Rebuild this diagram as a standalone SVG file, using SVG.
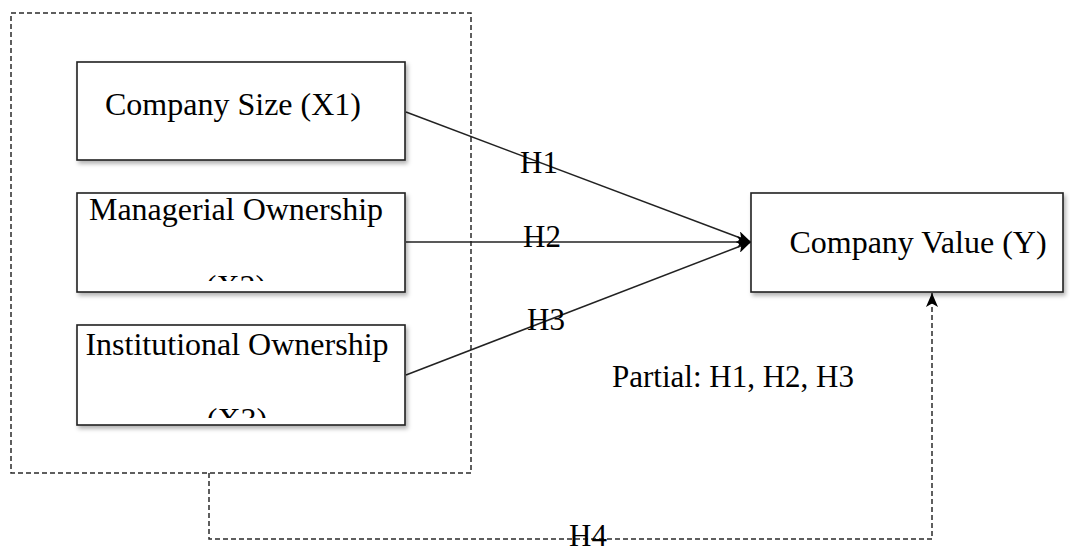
<svg xmlns="http://www.w3.org/2000/svg" width="1070" height="547" viewBox="0 0 1070 547">
  <style>
    .box { fill: #ffffff; stroke: #222222; stroke-width: 1.6; }
    .lbl { font-family: "Liberation Serif", "Times New Roman", serif; font-size: 32px; fill: #000000; }
    .hl { font-family: "Liberation Serif", "Times New Roman", serif; font-size: 31px; fill: #000000; }
    .conn { fill: none; stroke: #222222; stroke-width: 1.5; }
    .dash { fill: none; stroke: #2a2a2a; stroke-width: 1.5; stroke-dasharray: 5 3; }
  </style>
  <defs>
    <filter id="shadow" x="-10%" y="-10%" width="125%" height="130%">
      <feDropShadow dx="2" dy="3" stdDeviation="2" flood-color="#000000" flood-opacity="0.3"/>
    </filter>
    <marker id="arrow" viewBox="0 0 14 12" refX="14" refY="6" markerWidth="14" markerHeight="12" markerUnits="userSpaceOnUse" orient="auto">
      <path d="M0,0 L14,6 L0,12 L3.5,6 Z" fill="#000000"/>
    </marker>
    <clipPath id="clip2"><rect x="77" y="194" width="328" height="87"/></clipPath>
    <clipPath id="clip3"><rect x="77" y="326" width="328" height="92"/></clipPath>
  </defs>
  <rect width="1070" height="547" fill="#ffffff"/>

  <g id="group-box">
    <rect class="dash" x="11" y="13" width="460" height="460"/>
  </g>

  <g id="connectors">
    <line class="conn" x1="406" y1="112" x2="751" y2="242" marker-end="url(#arrow)"/>
    <line class="conn" x1="406" y1="242" x2="751" y2="242" marker-end="url(#arrow)"/>
    <line class="conn" x1="406" y1="375" x2="751" y2="242" marker-end="url(#arrow)"/>
    <polyline class="dash" points="209,473 209,539 932,539 932,293" marker-end="url(#arrow)"/>
    <text class="hl" x="520" y="173">H1</text>
    <text class="hl" x="523" y="247">H2</text>
    <text class="hl" x="527" y="330">H3</text>
    <text class="hl" x="569" y="546">H4</text>
    <text class="hl" x="612" y="387">Partial: H1, H2, H3</text>
  </g>

  <g id="node-x1">
    <rect class="box" x="77" y="62" width="328" height="98" filter="url(#shadow)"/>
    <text class="lbl" x="233" y="115" text-anchor="middle">Company Size (X1)</text>
  </g>

  <g id="node-x2">
    <rect class="box" x="77" y="193" width="328" height="99" filter="url(#shadow)"/>
    <g clip-path="url(#clip2)">
      <text class="lbl" x="236" y="220" text-anchor="middle">Managerial Ownership</text>
      <text class="lbl" x="236" y="297" text-anchor="middle">(X2)</text>
    </g>
  </g>

  <g id="node-x3">
    <rect class="box" x="77" y="325" width="328" height="100" filter="url(#shadow)"/>
    <g clip-path="url(#clip3)">
      <text class="lbl" x="237" y="355" text-anchor="middle">Institutional Ownership</text>
      <text class="lbl" x="237" y="430" text-anchor="middle">(X3)</text>
    </g>
  </g>

  <g id="node-y">
    <rect class="box" x="751" y="193" width="312" height="99" filter="url(#shadow)"/>
    <text class="lbl" x="918" y="253" text-anchor="middle">Company Value (Y)</text>
  </g>
</svg>
